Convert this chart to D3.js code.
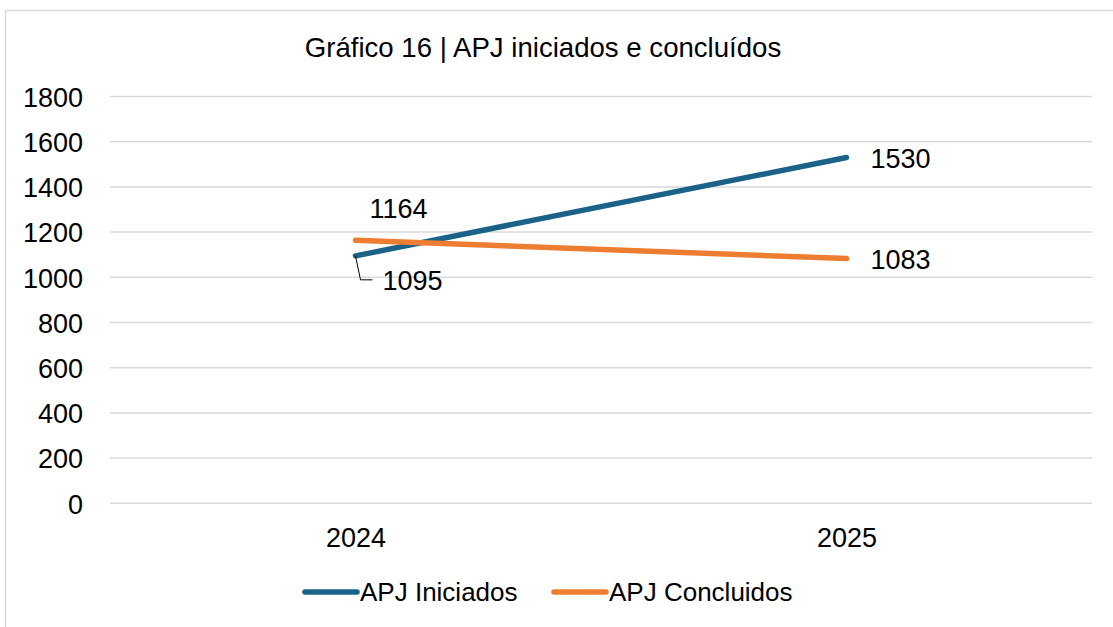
<!DOCTYPE html>
<html>
<head>
<meta charset="utf-8">
<script src="https://cdn.jsdelivr.net/npm/d3@7"></script>
<style>
  html, body { margin: 0; padding: 0; background: #fff; }
  svg { display: block; font-family: "Liberation Sans", Arial, sans-serif; }
</style>
</head>
<body>
<div id="chart"></div>
<script>
// dados
const years = ["2024", "2025"];
const iniciados = [1095, 1530];
const concluidos = [1164, 1083];
const yTicks = [0, 200, 400, 600, 800, 1000, 1200, 1400, 1600, 1800];
const seriesNames = ["APJ Iniciados", "APJ Concluidos"];
const seriesColors = ["#1a6287", "#ed7d31"];

const width = 1113;
const height = 627;

const svg = d3.select("#chart")
  .append("svg")
  .attr("width", width)
  .attr("height", height);

// moldura
svg.append("rect")
  .attr("x", 5.5)
  .attr("y", 10.5)
  .attr("width", 1200)
  .attr("height", 700)
  .attr("fill", "none")
  .attr("stroke", "#d9d9d9")
  .attr("stroke-width", 1.5);

const plot = { left: 110, right: 1092, top: 96.5, bottom: 503.3 };

const x = d3.scalePoint()
  .domain(years)
  .range([plot.left, plot.right])
  .padding(0.5);

const y = d3.scaleLinear()
  .domain([0, 1800])
  .range([plot.bottom, plot.top]);

// titulo
svg.append("text")
  .attr("x", 543)
  .attr("y", 57)
  .attr("text-anchor", "middle")
  .attr("font-size", "27.6px")
  .attr("fill", "#000")
  .text("Gráfico 16 | APJ iniciados e concluídos");

// grelha
svg.append("g")
  .selectAll("line")
  .data(yTicks)
  .enter()
  .append("line")
  .attr("x1", plot.left)
  .attr("x2", plot.right)
  .attr("y1", d => y(d))
  .attr("y2", d => y(d))
  .attr("stroke", "#d9d9d9")
  .attr("stroke-width", 1.5);

// eixo y
const yAxis = svg.append("g")
  .attr("transform", `translate(${plot.left - 27},0)`)
  .call(d3.axisLeft(y).tickValues(yTicks).tickFormat(d3.format("d")).tickSize(0).tickPadding(0));
yAxis.select(".domain").remove();
yAxis.selectAll("text")
  .attr("font-family", "Liberation Sans, Arial, sans-serif")
  .attr("font-size", "27px")
  .attr("fill", "#000")
  .attr("dy", "0.36em");

// eixo x
const xAxis = svg.append("g")
  .attr("transform", `translate(0,${plot.bottom})`)
  .call(d3.axisBottom(x).tickSize(0).tickPadding(0));
xAxis.select(".domain").remove();
xAxis.selectAll("text")
  .attr("font-family", "Liberation Sans, Arial, sans-serif")
  .attr("font-size", "27px")
  .attr("fill", "#000")
  .attr("dy", null)
  .attr("y", 44);

// linhas
const line = d3.line()
  .x((d, i) => x(years[i]))
  .y(d => y(d));

[iniciados, concluidos].forEach((vals, k) => {
  svg.append("path")
    .attr("d", line(vals))
    .attr("fill", "none")
    .attr("stroke", seriesColors[k])
    .attr("stroke-width", 5.5)
    .attr("stroke-linecap", "round");
});

// rotulos
const labelStyle = sel => sel
  .attr("font-size", "27px")
  .attr("fill", "#000");

// 1095 com linha de chamada
svg.append("path")
  .attr("d", `M${x(years[0])},${y(iniciados[0])} L${x(years[0]) + 5},${y(iniciados[0]) + 24} L${x(years[0]) + 17},${y(iniciados[0]) + 24}`)
  .attr("fill", "none")
  .attr("stroke", "#000")
  .attr("stroke-width", 1);

svg.append("text")
  .attr("x", x(years[0]) + 27)
  .attr("y", y(iniciados[0]) + 34)
  .call(labelStyle)
  .text(iniciados[0]);

svg.append("text")
  .attr("x", x(years[1]) + 24)
  .attr("y", y(iniciados[1]) + 10)
  .call(labelStyle)
  .text(iniciados[1]);

svg.append("text")
  .attr("x", x(years[0]) + 14)
  .attr("y", y(concluidos[0]) - 22)
  .call(labelStyle)
  .text(concluidos[0]);

svg.append("text")
  .attr("x", x(years[1]) + 24)
  .attr("y", y(concluidos[1]) + 10)
  .call(labelStyle)
  .text(concluidos[1]);

// legenda
const legendX = [305, 554];
const legend = svg.append("g")
  .selectAll("g")
  .data(seriesNames)
  .enter()
  .append("g")
  .attr("transform", (d, i) => `translate(${legendX[i]},592)`);

legend.append("line")
  .attr("x1", 0)
  .attr("x2", 52)
  .attr("stroke", (d, i) => seriesColors[i])
  .attr("stroke-width", 5.5)
  .attr("stroke-linecap", "round");

legend.append("text")
  .attr("x", 55)
  .attr("y", 9)
  .attr("font-size", "26px")
  .attr("fill", "#000")
  .text(d => d);
</script>
</body>
</html>
